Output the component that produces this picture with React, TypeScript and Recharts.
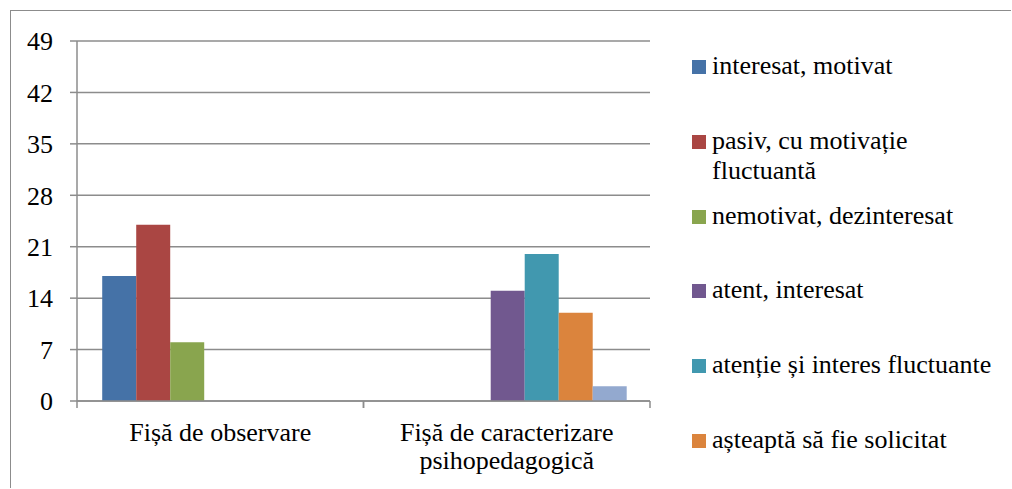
import { BarChart, Bar, XAxis, YAxis, CartesianGrid, Legend } from 'recharts';

const categories = ['Fișă de observare', 'Fișă de caracterizare psihopedagogică'];

const seriesNames = [
  'interesat, motivat',
  'pasiv, cu motivație fluctuantă',
  'nemotivat, dezinteresat',
  'atent, interesat',
  'atenție și interes fluctuante',
  'așteaptă să fie solicitat',
  'altele',
];

const observare = [17, 24, 8, 0, 0, 0, 0];
const caracterizare = [0, 0, 0, 15, 20, 12, 2];

const yTicks = [0, 7, 14, 21, 28, 35, 42, 49];

const COLORS = ['#4572A7', '#AA4643', '#89A54E', '#71588F', '#4198AF', '#DB843D', '#93A9CF'];

// the 7th series is cut off in the original legend
const LEGEND_COUNT = 6;

const FONT = 'Liberation Serif, serif';
const FS = 26;
const GRID = '#8c8c8c';

const data = categories.map((name, i) => {
  const vals = i === 0 ? observare : caracterizare;
  const row: Record<string, string | number> = { name };
  seriesNames.forEach((s, k) => {
    row[`s${k}`] = vals[k];
  });
  return row;
});

// greedy word wrap by character count
const wrap = (label: string, maxChars: number) => {
  const lines: string[] = [];
  let cur = '';
  label.split(' ').forEach((w) => {
    const next = cur ? `${cur} ${w}` : w;
    if (next.length > maxChars && cur) {
      lines.push(cur);
      cur = w;
    } else {
      cur = next;
    }
  });
  if (cur) lines.push(cur);
  return lines;
};

const CategoryTick = (props: any) => {
  const { x, y, payload } = props;
  const half = payload?.offset ?? 143;
  const lines = wrap(String(payload.value), 24);
  return (
    <g>
      <line x1={x - half} y1={y} x2={x - half} y2={y + 7} stroke={GRID} strokeWidth={1.5} />
      <line x1={x + half} y1={y} x2={x + half} y2={y + 7} stroke={GRID} strokeWidth={1.5} />
      <text x={x} y={y + 40} textAnchor="middle" fill="#000" fontFamily={FONT} fontSize={FS}>
        {lines.map((l, i) => (
          <tspan key={i} x={x} dy={i === 0 ? 0 : 28}>
            {l}
          </tspan>
        ))}
      </text>
    </g>
  );
};

const renderLegend = () => (
  <div style={{ position: 'relative', width: 322, height: 489, fontFamily: FONT, fontSize: FS }}>
    {seriesNames.slice(0, LEGEND_COUNT).map((name, i) => {
      const center = 67 + i * 74.8;
      return (
        <div key={name}>
          <div
            style={{
              position: 'absolute',
              left: 2,
              top: center - 7,
              width: 14,
              height: 14,
              background: COLORS[i],
            }}
          />
          <div
            style={{
              position: 'absolute',
              left: 22,
              top: center - 16,
              width: 290,
              lineHeight: '30px',
              color: '#000',
            }}
          >
            {name}
          </div>
        </div>
      );
    })}
  </div>
);

export default function App() {
  return (
    <div style={{ position: 'absolute', left: 0, top: 0, width: 1012, height: 489, fontFamily: FONT }}>
      <div
        style={{
          position: 'absolute',
          left: 10,
          top: 10,
          width: 1000,
          height: 477,
          borderLeft: `1.5px solid ${GRID}`,
          borderTop: `1.5px solid ${GRID}`,
        }}
      />
      <BarChart
        width={1012}
        height={489}
        data={data}
        margin={{ top: 41, right: 362, bottom: 0, left: 0 }}
        barCategoryGap="8.8%"
        barGap={0}
        style={{ position: 'absolute', left: 0, top: 0, fontFamily: FONT }}
      >
        <CartesianGrid vertical={false} stroke={GRID} strokeWidth={1.5} />
        <XAxis
          dataKey="name"
          height={88}
          axisLine={{ stroke: GRID, strokeWidth: 1.5 }}
          tickLine={false}
          tickSize={0}
          tickMargin={0}
          tick={<CategoryTick />}
          interval={0}
        />
        <YAxis
          width={77}
          domain={[0, 49]}
          ticks={yTicks}
          interval={0}
          axisLine={{ stroke: GRID, strokeWidth: 1.5 }}
          tickLine={{ stroke: GRID, strokeWidth: 1.5 }}
          tickSize={7}
          tickMargin={17}
          tick={{ fill: '#000', fontSize: FS, fontFamily: FONT }}
        />
        <Legend
          layout="horizontal"
          align="center"
          verticalAlign="middle"
          content={renderLegend}
          wrapperStyle={{ left: 690, top: 0, width: 322, height: 489 }}
        />
        {seriesNames.map((s, k) => (
          <Bar key={s} dataKey={`s${k}`} name={s} fill={COLORS[k]} isAnimationActive={false} />
        ))}
      </BarChart>
    </div>
  );
}
